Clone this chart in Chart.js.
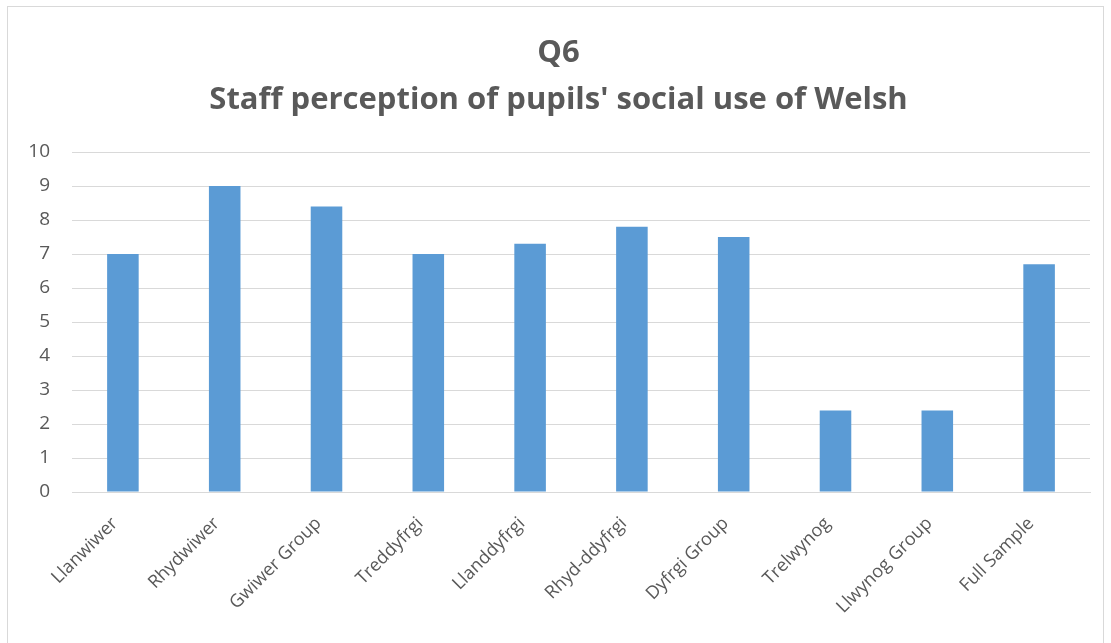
<!DOCTYPE html>
<html>
<head>
<meta charset="utf-8">
<script src="https://cdn.jsdelivr.net/npm/chart.js@4.4.1/dist/chart.umd.min.js"></script>
<style>
  html, body { margin: 0; padding: 0; background: #fff; overflow: hidden; }
  #frame {
    position: absolute; left: 7px; top: 6px;
    width: 1097px; height: 660px;
    border: 1px solid #d9d9d9; box-sizing: border-box;
  }
</style>
</head>
<body>
<div id="frame"><canvas id="q6Chart"></canvas></div>
<script>
var categories = ['Llanwiwer', 'Rhydwiwer', 'Gwiwer Group', 'Treddyfrgi', 'Llanddyfrgi',
  'Rhyd-ddyfrgi', 'Dyfrgi Group', 'Trelwynog', 'Llwynog Group', 'Full Sample'];
var scores = [7, 9, 8.4, 7, 7.3, 7.8, 7.5, 2.4, 2.4, 6.7];
var yTicks = [0, 1, 2, 3, 4, 5, 6, 7, 8, 9, 10];
var titleLines = ['Q6', "Staff perception of pupils' social use of Welsh"];

var textGrey = '#595959';

var ctx = document.getElementById('q6Chart');

var q6Chart = new Chart(ctx, {
  type: 'bar',
  data: {
    labels: categories,
    datasets: [
      {
        label: 'Score',
        data: scores,
        backgroundColor: '#5b9bd5',
        borderWidth: 0,
        categoryPercentage: 1,
        barPercentage: 0.31
      }
    ]
  },
  options: {
    responsive: true,
    maintainAspectRatio: false,
    animation: false,
    layout: {
      padding: { left: 19, right: 13, top: 7, bottom: 23 }
    },
    plugins: {
      legend: { display: false },
      tooltip: { enabled: false },
      title: {
        display: true,
        text: titleLines,
        color: textGrey,
        font: { family: 'Open Sans', size: 31, weight: 'bold', lineHeight: 1.5 },
        padding: { top: 16, bottom: 29 }
      }
    },
    scales: {
      y: {
        min: yTicks[0],
        max: yTicks[yTicks.length - 1],
        afterBuildTicks: function (axis) {
          axis.ticks = yTicks.map(function (v) { return { value: v }; });
        },
        afterFit: function (axis) { axis.width = 45; },
        border: { display: false },
        grid: { color: '#d9d9d9', lineWidth: 1, drawTicks: false },
        ticks: {
          color: textGrey,
          padding: 22,
          font: { family: 'Open Sans', size: 19 }
        }
      },
      x: {
        border: { display: true, color: '#d9d9d9' },
        grid: { display: false },
        afterFit: function (axis) {
          axis.height = 150;
          axis.paddingLeft = 0;
          axis.paddingRight = 0;
        },
        ticks: {
          color: textGrey,
          autoSkip: false,
          minRotation: 45,
          maxRotation: 45,
          padding: 13,
          labelOffset: -8,
          font: { family: 'Open Sans', size: 18 }
        }
      }
    }
  }
});
</script>
</body>
</html>
